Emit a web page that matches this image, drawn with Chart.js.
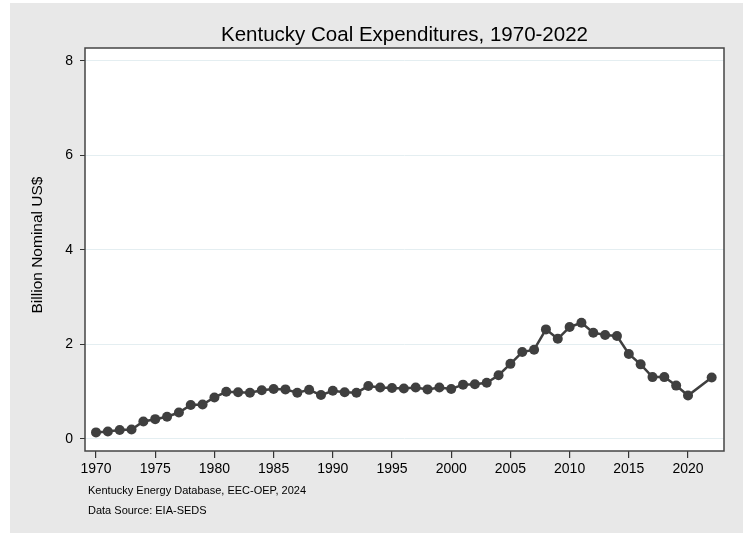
<!DOCTYPE html>
<html>
<head>
<meta charset="utf-8">
<script src="https://cdn.jsdelivr.net/npm/chart.js@4.4.1/dist/chart.umd.min.js"></script>
<style>
  html, body { margin: 0; padding: 0; background: #ffffff; }
  #wrap { width: 746px; height: 533px; }
</style>
</head>
<body>
<div id="wrap"><canvas id="myChart" width="746" height="533"></canvas></div>
<script>
// 年と金額 (2021 は無し)
const years = [1970, 1971, 1972, 1973, 1974, 1975, 1976, 1977, 1978, 1979,
               1980, 1981, 1982, 1983, 1984, 1985, 1986, 1987, 1988, 1989,
               1990, 1991, 1992, 1993, 1994, 1995, 1996, 1997, 1998, 1999,
               2000, 2001, 2002, 2003, 2004, 2005, 2006, 2007, 2008, 2009,
               2010, 2011, 2012, 2013, 2014, 2015, 2016, 2017, 2018, 2019,
               2020, 2022];
const expenditures = [0.14, 0.16, 0.19, 0.20, 0.37, 0.42, 0.47, 0.56, 0.72, 0.73,
                      0.88, 1.00, 0.99, 0.98, 1.03, 1.06, 1.05, 0.98, 1.04, 0.93,
                      1.02, 0.99, 0.98, 1.12, 1.09, 1.08, 1.07, 1.09, 1.05, 1.09,
                      1.06, 1.15, 1.16, 1.19, 1.35, 1.59, 1.84, 1.89, 2.32, 2.12,
                      2.37, 2.46, 2.25, 2.20, 2.18, 1.80, 1.58, 1.31, 1.31, 1.13,
                      0.92, 1.30];
const xTicks = [1970, 1975, 1980, 1985, 1990, 1995, 2000, 2005, 2010, 2015, 2020];
const yTicks = [0, 2, 4, 6, 8];
const notes = ["Kentucky Energy Database, EEC-OEP, 2024", "Data Source: EIA-SEDS"];

const points = years.map(function(y, i){
  return { x: y, y: expenditures[i] };
});

const FONT = '"Liberation Sans", Arial, sans-serif';

// 背景・枠・タイトル・注記
const frame = {
  id: 'frame',
  beforeDraw: function(chart){
    var c = chart.ctx;
    var a = chart.chartArea;
    c.save();
    c.fillStyle = '#e8e8e8';
    c.fillRect(10, 3, 733, 530);
    c.fillStyle = '#ffffff';
    c.fillRect(a.left, a.top, a.right - a.left, a.bottom - a.top);
    c.restore();
  },
  afterDraw: function(chart){
    var c = chart.ctx;
    var a = chart.chartArea;
    c.save();
    c.strokeStyle = '#444444';
    c.lineWidth = 1.5;
    c.strokeRect(a.left, a.top, a.right - a.left, a.bottom - a.top);
    c.fillStyle = '#000000';
    c.textAlign = 'center';
    c.textBaseline = 'alphabetic';
    c.font = '20.5px ' + FONT;
    c.fillText('Kentucky Coal Expenditures, 1970-2022', (a.left + a.right) / 2, 41);
    // 縦軸タイトル
    c.save();
    c.translate(38, 245);
    c.rotate(-Math.PI / 2);
    c.textBaseline = 'middle';
    c.font = '15.5px ' + FONT;
    c.fillText('Billion Nominal US$', 0, 0);
    c.restore();
    c.textAlign = 'left';
    c.textBaseline = 'middle';
    c.font = '11px ' + FONT;
    c.fillText(notes[0], 88, 491);
    c.fillText(notes[1], 88, 511);
    c.restore();
  }
};

var ctx = document.getElementById("myChart").getContext('2d');
var myChart = new Chart(ctx, {
  type: 'line',
  data: {
    datasets: [{
      data: points,
      borderColor: '#3f3f3f',
      backgroundColor: '#3f3f3f',
      borderWidth: 2.5,
      pointRadius: 5,
      pointBorderWidth: 0,
      pointBackgroundColor: '#3f3f3f',
      tension: 0
    }]
  },
  options: {
    responsive: false,
    animation: false,
    layout: { padding: { left: 0, top: 48, right: 22, bottom: 0 } },
    plugins: {
      legend: { display: false },
      tooltip: { enabled: false }
    },
    scales: {
      x: {
        type: 'linear',
        min: 1969.07,
        max: 2023.04,
        afterBuildTicks: function(scale){
          scale.ticks = xTicks.map(function(v){ return { value: v }; });
        },
        afterFit: function(scale){ scale.height = 82; },
        border: { display: false },
        grid: {
          drawOnChartArea: false,
          drawTicks: true,
          tickLength: 7,
          tickColor: '#333333',
          lineWidth: 1.2
        },
        ticks: {
          color: '#000000',
          padding: 3,
          maxRotation: 0,
          autoSkip: false,
          font: { family: FONT, size: 14 },
          callback: function(v){ return String(v); }
        }
      },
      y: {
        min: -0.254,
        max: 8.275,
        afterBuildTicks: function(scale){
          scale.ticks = yTicks.map(function(v){ return { value: v }; });
        },
        afterFit: function(scale){ scale.width = 85; },
        border: { display: false },
        grid: {
          color: '#e4eef1',
          lineWidth: 1,
          drawTicks: true,
          tickLength: 5,
          tickColor: '#333333'
        },
        ticks: {
          color: '#000000',
          padding: 7,
          autoSkip: false,
          font: { family: FONT, size: 14 },
          callback: function(v){ return String(v); }
        },
        title: { display: false }
      }
    }
  },
  plugins: [frame]
});
</script>
</body>
</html>
